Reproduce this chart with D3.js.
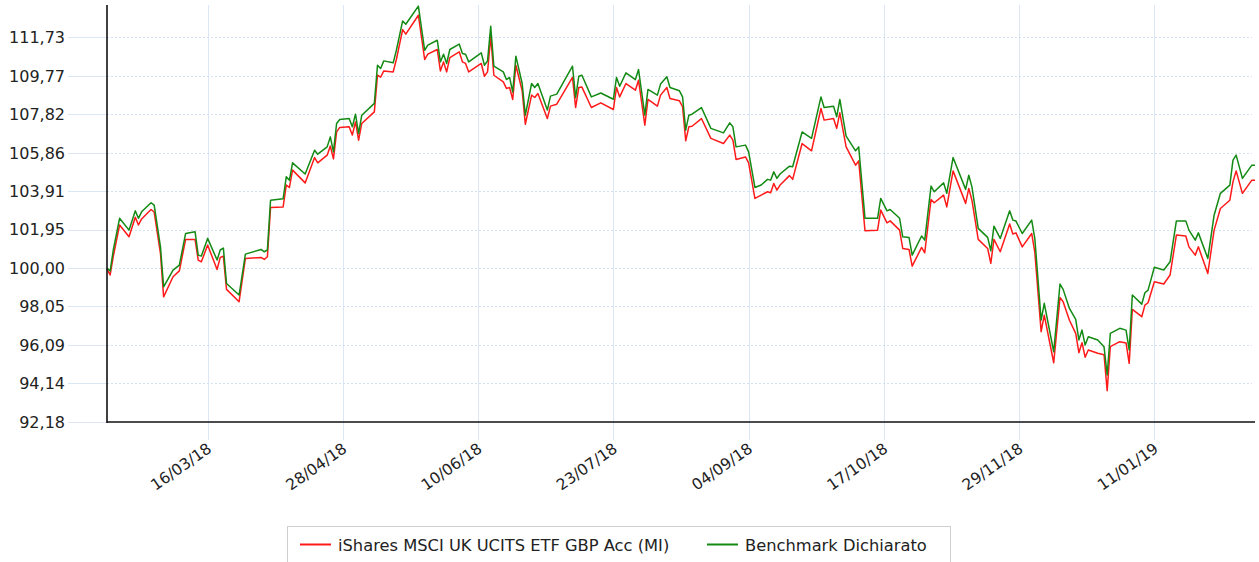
<!DOCTYPE html>
<html>
<head>
<meta charset="utf-8">
<script src="https://cdn.jsdelivr.net/npm/d3@7/dist/d3.min.js"></script>
<style>
  html, body { margin: 0; padding: 0; background: #fff; }
  svg { display: block; }
  text { font-family: "DejaVu Sans", Verdana, sans-serif; fill: #222; }
</style>
</head>
<body>
<svg id="chart" width="1259" height="562"></svg>
<script>
const dates = ["2018-02-12","2018-02-13","2018-02-14","2018-02-16","2018-02-19","2018-02-21","2018-02-22","2018-02-23","2018-02-26","2018-02-27","2018-03-01","2018-03-02","2018-03-05","2018-03-07","2018-03-09","2018-03-12","2018-03-13","2018-03-14","2018-03-16","2018-03-19","2018-03-20","2018-03-21","2018-03-22","2018-03-26","2018-03-28","2018-04-02","2018-04-03","2018-04-04","2018-04-05","2018-04-09","2018-04-10","2018-04-11","2018-04-12","2018-04-16","2018-04-19","2018-04-20","2018-04-23","2018-04-24","2018-04-25","2018-04-26","2018-04-27","2018-04-30","2018-05-01","2018-05-02","2018-05-03","2018-05-04","2018-05-08","2018-05-09","2018-05-10","2018-05-11","2018-05-14","2018-05-15","2018-05-17","2018-05-18","2018-05-22","2018-05-24","2018-05-25","2018-05-28","2018-05-29","2018-05-30","2018-05-31","2018-06-01","2018-06-04","2018-06-05","2018-06-06","2018-06-07","2018-06-11","2018-06-12","2018-06-13","2018-06-14","2018-06-15","2018-06-18","2018-06-19","2018-06-20","2018-06-21","2018-06-22","2018-06-24","2018-06-25","2018-06-27","2018-06-28","2018-06-29","2018-07-02","2018-07-03","2018-07-05","2018-07-10","2018-07-11","2018-07-12","2018-07-13","2018-07-16","2018-07-19","2018-07-23","2018-07-24","2018-07-25","2018-07-27","2018-07-30","2018-07-31","2018-08-02","2018-08-03","2018-08-06","2018-08-07","2018-08-09","2018-08-10","2018-08-13","2018-08-14","2018-08-15","2018-08-16","2018-08-17","2018-08-20","2018-08-23","2018-08-27","2018-08-29","2018-08-30","2018-08-31","2018-09-03","2018-09-04","2018-09-06","2018-09-08","2018-09-10","2018-09-11","2018-09-12","2018-09-13","2018-09-14","2018-09-17","2018-09-18","2018-09-21","2018-09-24","2018-09-27","2018-09-28","2018-10-01","2018-10-02","2018-10-03","2018-10-05","2018-10-08","2018-10-09","2018-10-11","2018-10-15","2018-10-16","2018-10-18","2018-10-19","2018-10-22","2018-10-23","2018-10-25","2018-10-26","2018-10-29","2018-10-30","2018-11-01","2018-11-02","2018-11-05","2018-11-06","2018-11-08","2018-11-12","2018-11-13","2018-11-14","2018-11-16","2018-11-19","2018-11-20","2018-11-21","2018-11-23","2018-11-26","2018-11-27","2018-11-28","2018-11-30","2018-12-03","2018-12-04","2018-12-06","2018-12-07","2018-12-10","2018-12-12","2018-12-13","2018-12-15","2018-12-17","2018-12-18","2018-12-19","2018-12-20","2018-12-21","2018-12-24","2018-12-26","2018-12-27","2018-12-28","2018-12-31","2019-01-02","2019-01-03","2019-01-04","2019-01-07","2019-01-08","2019-01-09","2019-01-11","2019-01-14","2019-01-16","2019-01-18","2019-01-21","2019-01-22","2019-01-24","2019-01-25","2019-01-28","2019-01-30","2019-02-01","2019-02-04","2019-02-05","2019-02-06","2019-02-08","2019-02-11","2019-02-12"];

const fundValues = [99.95,99.65,100.60,102.19,101.59,102.58,102.19,102.50,102.98,102.85,100.75,98.54,99.56,99.86,101.46,101.46,100.41,100.32,101.17,99.93,100.54,100.61,98.92,98.29,100.49,100.54,100.44,100.58,103.08,103.11,104.22,104.10,104.98,104.33,105.62,105.35,105.74,106.20,105.55,106.92,107.15,107.18,106.76,107.43,106.50,107.35,107.94,109.80,109.70,110.02,109.97,110.60,112.12,111.89,112.85,110.60,110.87,111.11,110.02,110.48,109.97,110.70,110.99,110.48,110.40,109.97,110.40,109.75,109.97,111.78,109.80,109.46,109.13,109.18,108.57,110.31,109.01,107.31,108.79,108.67,108.87,107.60,108.23,108.33,109.69,108.16,109.18,109.20,108.16,108.40,108.06,109.18,108.70,109.38,109.04,109.55,107.26,108.57,108.23,108.79,109.18,108.62,108.50,108.20,106.47,107.18,107.21,107.60,106.59,106.33,106.76,106.50,105.52,105.65,105.35,103.54,103.71,103.88,103.83,104.30,103.96,104.22,104.70,104.51,106.33,105.96,108.11,107.52,107.60,107.10,107.89,106.16,105.23,105.45,101.90,101.93,102.95,102.30,102.40,101.93,101.00,100.95,100.10,101.05,100.78,103.49,103.32,103.71,103.11,104.94,103.29,104.05,103.45,101.46,101.00,100.24,101.46,100.83,102.24,101.73,101.79,101.08,101.76,100.80,96.77,97.61,95.19,98.51,98.29,97.35,96.68,95.70,96.21,95.47,95.84,95.67,95.60,93.77,96.01,96.26,96.20,95.16,97.90,97.53,98.12,98.24,99.31,99.19,99.65,101.68,101.63,101.08,100.66,101.08,99.73,101.93,103.03,103.45,104.38,104.94,103.80,104.47,104.47];

const benchmarkValues = [100.00,99.85,100.92,102.53,101.93,102.91,102.53,102.86,103.32,103.20,101.08,99.05,99.90,100.15,101.76,101.85,100.66,100.61,101.51,100.41,100.92,101.02,99.22,98.63,100.71,100.95,100.83,100.92,103.45,103.52,104.64,104.47,105.35,104.78,105.99,105.79,106.16,106.67,105.91,107.35,107.55,107.60,107.18,107.82,106.84,107.77,108.37,110.31,110.14,110.53,110.43,111.07,112.56,112.39,113.31,111.07,111.33,111.58,110.48,110.87,110.40,111.11,111.38,110.91,110.87,110.48,110.94,110.31,110.53,112.29,110.26,109.97,109.58,109.69,108.95,110.77,109.38,107.77,109.38,109.18,109.38,108.03,108.74,108.84,110.26,108.67,109.75,109.80,108.70,108.90,108.58,109.69,109.24,109.92,109.58,110.09,107.77,109.08,108.79,109.35,109.72,109.18,109.01,108.70,107.01,107.77,107.82,108.16,107.10,106.87,107.38,107.18,106.16,106.25,105.91,104.10,104.22,104.51,104.47,104.89,104.56,104.78,105.18,105.15,106.92,106.59,108.70,108.16,108.23,107.69,108.57,106.71,105.96,106.16,102.53,102.53,103.54,102.91,102.98,102.53,101.59,101.56,100.66,101.63,101.42,104.17,103.88,104.33,103.80,105.62,104.00,104.72,104.13,102.02,101.56,100.88,102.13,101.51,102.91,102.44,102.39,101.76,102.44,101.50,97.36,98.21,95.75,99.19,98.92,97.95,97.40,96.35,96.85,96.09,96.51,96.35,96.00,94.57,96.68,96.94,96.85,95.84,98.63,98.17,98.75,98.88,100.04,99.90,100.32,102.40,102.40,101.93,101.42,101.79,100.49,102.69,103.80,104.22,105.49,105.74,104.56,105.23,105.23];

const yTickValues = [92.18, 94.14, 96.09, 98.05, 100.00, 101.95, 103.91, 105.86, 107.82, 109.77, 111.73];
const xTickLabels = ["16/03/18","28/04/18","10/06/18","23/07/18","04/09/18","17/10/18","29/11/18","11/01/19"];
const seriesNames = ["iShares MSCI UK UCITS ETF GBP Acc (MI)", "Benchmark Dichiarato"];
const seriesColors = ["#ff1a1a", "#138a13"];
const xDomain = ["2018-02-12", "2019-02-12"];
const yDomain = [92.18, 113.37];

const parseISO = d3.utcParse("%Y-%m-%d");
const parseTick = d3.utcParse("%d/%m/%y");
const fmtTick = d3.utcFormat("%d/%m/%y");

const svg = d3.select("#chart");
const plotL = 107, plotR = 1255, plotT = 5, plotB = 422;

const x = d3.scaleUtc().domain(xDomain.map(parseISO)).range([plotL, plotR]);
const y = d3.scaleLinear().domain(yDomain).range([plotB, plotT]);

svg.append("rect").attr("width", 1259).attr("height", 562).attr("fill", "#fff");

const xTicks = xTickLabels.map(parseTick);

// vertical grid lines (extend below axis as ticks)
svg.append("g").selectAll("line").data(xTicks).join("line")
  .attr("x1", d => Math.round(x(d)) + 0.5).attr("x2", d => Math.round(x(d)) + 0.5)
  .attr("y1", plotT).attr("y2", 440)
  .attr("stroke", "#dbe7f5").attr("stroke-width", 1);

// horizontal grid lines: solid tick part left of axis, dotted inside
const gy = svg.append("g");
gy.selectAll("line.tk").data(yTickValues).join("line").attr("class", "tk")
  .attr("x1", 68).attr("x2", plotL)
  .attr("y1", d => Math.round(y(d)) + 0.5).attr("y2", d => Math.round(y(d)) + 0.5)
  .attr("stroke", "#dbe7f5").attr("stroke-width", 1);
gy.selectAll("line.gd").data(yTickValues.slice(1)).join("line").attr("class", "gd")
  .attr("x1", plotL).attr("x2", 1252)
  .attr("y1", d => Math.round(y(d)) + 0.5).attr("y2", d => Math.round(y(d)) + 0.5)
  .attr("stroke", "#d3e1f2").attr("stroke-width", 1).attr("stroke-dasharray", "2,2");

// y labels
svg.append("g").selectAll("text").data(yTickValues).join("text")
  .attr("x", 65).attr("y", d => y(d)).attr("dy", "0.36em")
  .attr("text-anchor", "end").attr("font-size", "16px")
  .text(d => d.toFixed(2).replace(".", ","));

// x labels
svg.append("g").selectAll("text").data(xTicks).join("text")
  .attr("text-anchor", "end").attr("font-size", "15.5px")
  .attr("transform", d => `translate(${x(d) + 5},${451}) rotate(-35)`)
  .text(d => fmtTick(d));

// lines
const pts = dates.map(parseISO);
const line = d3.line().x(d => x(d[0])).y(d => y(d[1]));
const series = [fundValues, benchmarkValues];
series.forEach((vals, i) => {
  svg.append("path")
    .datum(pts.map((p, j) => [p, vals[j]]))
    .attr("fill", "none").attr("stroke", seriesColors[i])
    .attr("stroke-width", 1.5).attr("stroke-linejoin", "round")
    .attr("d", line);
});

// axes
svg.append("line").attr("x1", plotL).attr("x2", plotL).attr("y1", plotT).attr("y2", plotB + 1)
  .attr("stroke", "#111").attr("stroke-width", 1.6);
svg.append("line").attr("x1", plotL).attr("x2", plotR).attr("y1", plotB).attr("y2", plotB)
  .attr("stroke", "#111").attr("stroke-width", 1.6);

// legend
const lg = svg.append("g");
lg.append("rect").attr("x", 287.5).attr("y", 526.5).attr("width", 663).attr("height", 45)
  .attr("fill", "#fff").attr("stroke", "#cfcfcf");
const legendX = [300, 707];
seriesNames.forEach((name, i) => {
  lg.append("line").attr("x1", legendX[i]).attr("x2", legendX[i] + 31)
    .attr("y1", 544.5).attr("y2", 544.5).attr("stroke", seriesColors[i]).attr("stroke-width", 2);
  lg.append("text").attr("x", legendX[i] + 38).attr("y", 550.5).attr("font-size", "16.3px").text(name);
});
</script>
</body>
</html>
